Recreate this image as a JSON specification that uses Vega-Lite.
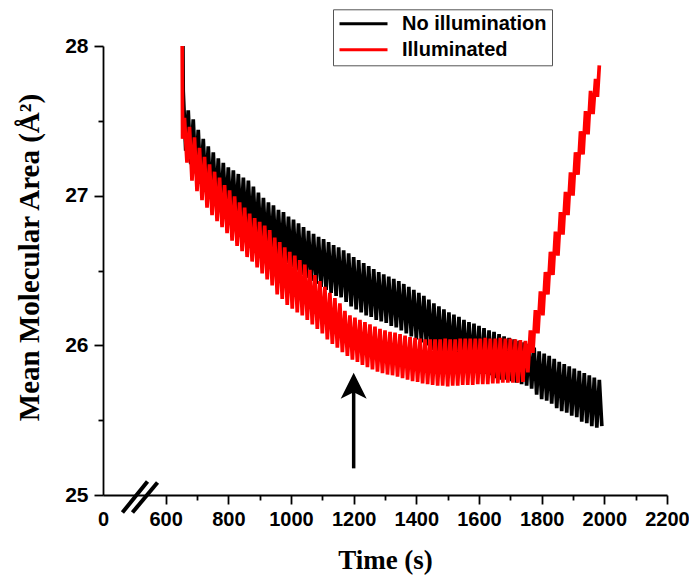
{
"$schema":"https://vega.github.io/schema/vega-lite/v6.json",
"width":564,"height":449,
"autosize":"none",
"padding":{"left":103,"top":46,"right":22,"bottom":80},
"background":"white",
"config":{"view":{"stroke":null},"font":"Liberation Sans"},
"resolve":{"axis":{"x":"independent","y":"independent"}},
"datasets":{
"blk":[{"t":651,"v":29.5},{"t":656,"v":27.70},{"t":664,"v":27.30},{"t":672,"v":27.57},{"t":680,"v":27.21},{"t":688,"v":27.51},{"t":696,"v":27.15},{"t":704,"v":27.44},{"t":712,"v":27.08},{"t":720,"v":27.38},{"t":728,"v":27.03},{"t":736,"v":27.33},{"t":744,"v":26.98},{"t":752,"v":27.29},{"t":760,"v":26.94},{"t":768,"v":27.25},{"t":776,"v":26.91},{"t":784,"v":27.22},{"t":792,"v":26.88},{"t":800,"v":27.19},{"t":808,"v":26.85},{"t":816,"v":27.17},{"t":824,"v":26.83},{"t":832,"v":27.145},{"t":840,"v":26.80},{"t":848,"v":27.12},{"t":856,"v":26.78},{"t":864,"v":27.10},{"t":872,"v":26.75},{"t":880,"v":27.06},{"t":888,"v":26.71},{"t":896,"v":27.02},{"t":904,"v":26.67},{"t":912,"v":26.985},{"t":920,"v":26.64},{"t":928,"v":26.955},{"t":936,"v":26.62},{"t":944,"v":26.935},{"t":952,"v":26.59},{"t":960,"v":26.905},{"t":968,"v":26.57},{"t":976,"v":26.89},{"t":984,"v":26.55},{"t":992,"v":26.86},{"t":1000,"v":26.52},{"t":1008,"v":26.84},{"t":1016,"v":26.50},{"t":1024,"v":26.815},{"t":1032,"v":26.47},{"t":1040,"v":26.79},{"t":1048,"v":26.45},{"t":1056,"v":26.765},{"t":1064,"v":26.43},{"t":1072,"v":26.745},{"t":1080,"v":26.41},{"t":1088,"v":26.725},{"t":1096,"v":26.39},{"t":1104,"v":26.71},{"t":1112,"v":26.37},{"t":1120,"v":26.69},{"t":1128,"v":26.35},{"t":1136,"v":26.67},{"t":1144,"v":26.33},{"t":1152,"v":26.655},{"t":1160,"v":26.32},{"t":1168,"v":26.635},{"t":1176,"v":26.29},{"t":1184,"v":26.615},{"t":1192,"v":26.26},{"t":1200,"v":26.59},{"t":1208,"v":26.24},{"t":1216,"v":26.57},{"t":1224,"v":26.22},{"t":1232,"v":26.55},{"t":1240,"v":26.20},{"t":1248,"v":26.53},{"t":1256,"v":26.19},{"t":1264,"v":26.51},{"t":1272,"v":26.17},{"t":1280,"v":26.49},{"t":1288,"v":26.16},{"t":1296,"v":26.475},{"t":1304,"v":26.15},{"t":1312,"v":26.46},{"t":1320,"v":26.13},{"t":1328,"v":26.445},{"t":1336,"v":26.12},{"t":1344,"v":26.43},{"t":1352,"v":26.10},{"t":1360,"v":26.41},{"t":1368,"v":26.08},{"t":1376,"v":26.39},{"t":1384,"v":26.06},{"t":1392,"v":26.37},{"t":1400,"v":26.04},{"t":1408,"v":26.35},{"t":1416,"v":26.02},{"t":1424,"v":26.33},{"t":1432,"v":26.00},{"t":1440,"v":26.305},{"t":1448,"v":25.97},{"t":1456,"v":26.28},{"t":1464,"v":25.95},{"t":1472,"v":26.26},{"t":1480,"v":25.93},{"t":1488,"v":26.24},{"t":1496,"v":25.91},{"t":1504,"v":26.22},{"t":1512,"v":25.89},{"t":1520,"v":26.205},{"t":1528,"v":25.88},{"t":1536,"v":26.19},{"t":1544,"v":25.86},{"t":1552,"v":26.17},{"t":1560,"v":25.84},{"t":1568,"v":26.155},{"t":1576,"v":25.83},{"t":1584,"v":26.145},{"t":1592,"v":25.83},{"t":1600,"v":26.13},{"t":1608,"v":25.81},{"t":1616,"v":26.115},{"t":1624,"v":25.81},{"t":1632,"v":26.10},{"t":1640,"v":25.80},{"t":1648,"v":26.09},{"t":1656,"v":25.78},{"t":1664,"v":26.075},{"t":1672,"v":25.77},{"t":1680,"v":26.06},{"t":1688,"v":25.77},{"t":1696,"v":26.05},{"t":1704,"v":25.76},{"t":1712,"v":26.04},{"t":1720,"v":25.75},{"t":1728,"v":26.03},{"t":1736,"v":25.74},{"t":1744,"v":26.02},{"t":1752,"v":25.73},{"t":1760,"v":26.01},{"t":1768,"v":25.71},{"t":1776,"v":25.985},{"t":1784,"v":25.67},{"t":1792,"v":25.96},{"t":1800,"v":25.64},{"t":1808,"v":25.945},{"t":1816,"v":25.63},{"t":1824,"v":25.93},{"t":1832,"v":25.61},{"t":1840,"v":25.91},{"t":1848,"v":25.58},{"t":1856,"v":25.89},{"t":1864,"v":25.56},{"t":1872,"v":25.875},{"t":1880,"v":25.55},{"t":1888,"v":25.86},{"t":1896,"v":25.53},{"t":1904,"v":25.845},{"t":1912,"v":25.52},{"t":1920,"v":25.83},{"t":1928,"v":25.49},{"t":1936,"v":25.815},{"t":1944,"v":25.48},{"t":1952,"v":25.80},{"t":1960,"v":25.46},{"t":1968,"v":25.785},{"t":1976,"v":25.45},{"t":1984,"v":25.77},{"t":1992,"v":25.46}],
"red":[{"t":650,"v":29.5},{"t":654,"v":27.38},{"t":660,"v":27.52},{"t":668,"v":27.22},{"t":676,"v":27.46},{"t":684,"v":27.10},{"t":692,"v":27.39},{"t":700,"v":27.03},{"t":708,"v":27.32},{"t":716,"v":26.97},{"t":724,"v":27.26},{"t":732,"v":26.92},{"t":740,"v":27.21},{"t":748,"v":26.87},{"t":756,"v":27.16},{"t":764,"v":26.83},{"t":772,"v":27.12},{"t":780,"v":26.79},{"t":788,"v":27.07},{"t":796,"v":26.75},{"t":804,"v":27.035},{"t":812,"v":26.70},{"t":820,"v":26.995},{"t":828,"v":26.665},{"t":836,"v":26.955},{"t":844,"v":26.63},{"t":852,"v":26.92},{"t":860,"v":26.59},{"t":868,"v":26.88},{"t":876,"v":26.56},{"t":884,"v":26.85},{"t":892,"v":26.52},{"t":900,"v":26.825},{"t":908,"v":26.48},{"t":916,"v":26.80},{"t":924,"v":26.44},{"t":932,"v":26.77},{"t":940,"v":26.40},{"t":948,"v":26.72},{"t":956,"v":26.34},{"t":964,"v":26.69},{"t":972,"v":26.31},{"t":980,"v":26.655},{"t":988,"v":26.27},{"t":996,"v":26.625},{"t":1004,"v":26.245},{"t":1012,"v":26.60},{"t":1020,"v":26.22},{"t":1028,"v":26.57},{"t":1036,"v":26.20},{"t":1044,"v":26.54},{"t":1052,"v":26.17},{"t":1060,"v":26.505},{"t":1068,"v":26.14},{"t":1076,"v":26.47},{"t":1084,"v":26.11},{"t":1092,"v":26.43},{"t":1100,"v":26.08},{"t":1108,"v":26.39},{"t":1116,"v":26.04},{"t":1124,"v":26.35},{"t":1132,"v":26.01},{"t":1140,"v":26.315},{"t":1148,"v":25.985},{"t":1156,"v":26.28},{"t":1164,"v":25.955},{"t":1172,"v":26.23},{"t":1180,"v":25.93},{"t":1188,"v":26.20},{"t":1196,"v":25.905},{"t":1204,"v":26.185},{"t":1212,"v":25.89},{"t":1220,"v":26.17},{"t":1228,"v":25.87},{"t":1236,"v":26.155},{"t":1244,"v":25.855},{"t":1252,"v":26.14},{"t":1260,"v":25.84},{"t":1268,"v":26.125},{"t":1276,"v":25.825},{"t":1284,"v":26.11},{"t":1292,"v":25.815},{"t":1300,"v":26.10},{"t":1308,"v":25.805},{"t":1316,"v":26.09},{"t":1324,"v":25.80},{"t":1332,"v":26.085},{"t":1340,"v":25.79},{"t":1348,"v":26.075},{"t":1356,"v":25.78},{"t":1364,"v":26.065},{"t":1372,"v":25.77},{"t":1380,"v":26.055},{"t":1388,"v":25.76},{"t":1396,"v":26.05},{"t":1404,"v":25.755},{"t":1412,"v":26.045},{"t":1420,"v":25.745},{"t":1428,"v":26.04},{"t":1436,"v":25.74},{"t":1444,"v":26.04},{"t":1452,"v":25.735},{"t":1460,"v":26.04},{"t":1468,"v":25.73},{"t":1476,"v":26.04},{"t":1484,"v":25.73},{"t":1492,"v":26.045},{"t":1500,"v":25.725},{"t":1508,"v":26.04},{"t":1516,"v":25.73},{"t":1524,"v":26.04},{"t":1532,"v":25.73},{"t":1540,"v":26.045},{"t":1548,"v":25.735},{"t":1556,"v":26.045},{"t":1564,"v":25.735},{"t":1572,"v":26.045},{"t":1580,"v":25.735},{"t":1588,"v":26.045},{"t":1596,"v":25.74},{"t":1604,"v":26.045},{"t":1612,"v":25.74},{"t":1620,"v":26.05},{"t":1628,"v":25.74},{"t":1636,"v":26.045},{"t":1644,"v":25.745},{"t":1652,"v":26.045},{"t":1660,"v":25.745},{"t":1668,"v":26.05},{"t":1676,"v":25.75},{"t":1684,"v":26.045},{"t":1692,"v":25.75},{"t":1700,"v":26.045},{"t":1708,"v":25.75},{"t":1716,"v":26.04},{"t":1724,"v":25.75},{"t":1732,"v":26.035},{"t":1740,"v":25.755},{"t":1748,"v":26.03},{"t":1756,"v":25.82},{"t":1764,"v":26.10},{"t":1772,"v":25.95},{"t":1780,"v":26.235},{"t":1788,"v":26.08},{"t":1796,"v":26.36},{"t":1804,"v":26.20},{"t":1812,"v":26.49},{"t":1820,"v":26.34},{"t":1828,"v":26.625},{"t":1836,"v":26.47},{"t":1844,"v":26.76},{"t":1852,"v":26.60},{"t":1860,"v":26.89},{"t":1868,"v":26.74},{"t":1876,"v":27.025},{"t":1884,"v":26.87},{"t":1892,"v":27.155},{"t":1900,"v":27.00},{"t":1908,"v":27.29},{"t":1916,"v":27.14},{"t":1924,"v":27.43},{"t":1932,"v":27.275},{"t":1940,"v":27.565},{"t":1948,"v":27.41},{"t":1956,"v":27.70},{"t":1964,"v":27.545},{"t":1972,"v":27.78},{"t":1978,"v":27.66},{"t":1984,"v":27.87}],
"brk":[{"x":462,"y":24.883,"x2":542,"y2":25.09},{"x":494,"y":24.883,"x2":574,"y2":25.084}],
"arr":[{"t":1200,"y0":25.178,"y1":25.74}],
"head":[{"t":1200,"v":25.73}]
},
"layer":[
{"data":{"name":"blk"},"mark":{"type":"line","clip":true,"strokeWidth":3.7},
 "encoding":{
  "x":{"field":"t","type":"quantitative","scale":{"domain":[400,2200],"nice":false,"zero":false},
   "axis":{"orient":"bottom","values":[600,800,1000,1200,1400,1600,1800,2000,2200],"format":"d","grid":false,
    "domainColor":"black","domainWidth":1.8,"tickColor":"black","tickWidth":1.8,"tickSize":9,
    "labelFont":"Liberation Sans","labelFontWeight":"bold","labelFontSize":20,"labelColor":"black","labelPadding":5,"labelFlush":false,"labelOverlap":false,
    "title":"Time (s)","titleFont":"Liberation Serif","titleFontWeight":"bold","titleFontSize":27,"titleColor":"black","titlePadding":18}},
  "y":{"field":"v","type":"quantitative","scale":{"domain":[25,28],"nice":false,"zero":false},
   "axis":{"orient":"left","values":[25,26,27,28],"format":"d","grid":false,
    "domainColor":"black","domainWidth":1.8,"tickColor":"black","tickWidth":1.8,"tickSize":9,
    "labelFont":"Liberation Sans","labelFontWeight":"bold","labelFontSize":21,"labelColor":"black","labelPadding":6,"labelOverlap":false,
    "title":"Mean Molecular Area (Å²)","titleFont":"Liberation Serif","titleFontWeight":"bold","titleFontSize":29,"titleColor":"black","titlePadding":20,"titleY":211}},
  "color":{"datum":"No illumination","scale":{"domain":["No illumination","Illuminated"],"range":["#000000","#ff0000"]},
   "legend":{"orient":"none","legendX":230,"legendY":-36.7,"title":null,"symbolType":"stroke","symbolSize":2304,"symbolStrokeWidth":3,"clipHeight":19,
    "labelFont":"Liberation Sans","labelFontWeight":"bold","labelFontSize":20,"labelColor":"black","labelOffset":13,"padding":5,"rowPadding":5,
    "strokeColor":"#555555","fillColor":"white"}}
 }},
{"data":{"name":"red"},"mark":{"type":"line","clip":true,"strokeWidth":3.7},
 "encoding":{
  "x":{"field":"t","type":"quantitative","axis":{"orient":"bottom","values":[700,900,1100,1300,1500,1700,1900,2100],"labels":false,"domain":false,"grid":false,"tickColor":"black","tickWidth":1.8,"tickSize":5,"title":null}},
  "y":{"field":"v","type":"quantitative","axis":{"orient":"left","values":[25.5,26.5,27.5],"labels":false,"domain":false,"grid":false,"tickColor":"black","tickWidth":1.8,"tickSize":5,"title":null}},
  "color":{"datum":"Illuminated"}}},
{"data":{"name":"brk"},"mark":{"type":"rule","strokeWidth":4,"color":"black","clip":false},
 "encoding":{
  "x":{"field":"x","type":"quantitative","axis":{"orient":"bottom","values":[400],"labelExpr":"'0'","ticks":false,"domain":false,"grid":false,"title":null,
    "labelFont":"Liberation Sans","labelFontWeight":"bold","labelFontSize":20,"labelColor":"black","labelPadding":14,"labelFlush":false}},
  "x2":{"field":"x2"},
  "y":{"field":"y","type":"quantitative","axis":null},"y2":{"field":"y2"}}},
{"data":{"name":"arr"},"mark":{"type":"rule","strokeWidth":3.5,"color":"black"},
 "encoding":{"x":{"field":"t","type":"quantitative","axis":null},"y":{"field":"y0","type":"quantitative","axis":null},"y2":{"field":"y1"}}},
{"data":{"name":"head"},"mark":{"type":"point","shape":"M0,-1L1,1L0,0.5L-1,1Z","size":676,"filled":true,"color":"black","opacity":1,"strokeWidth":0},
 "encoding":{"x":{"field":"t","type":"quantitative","axis":null},"y":{"field":"v","type":"quantitative","axis":null}}}
]
}
